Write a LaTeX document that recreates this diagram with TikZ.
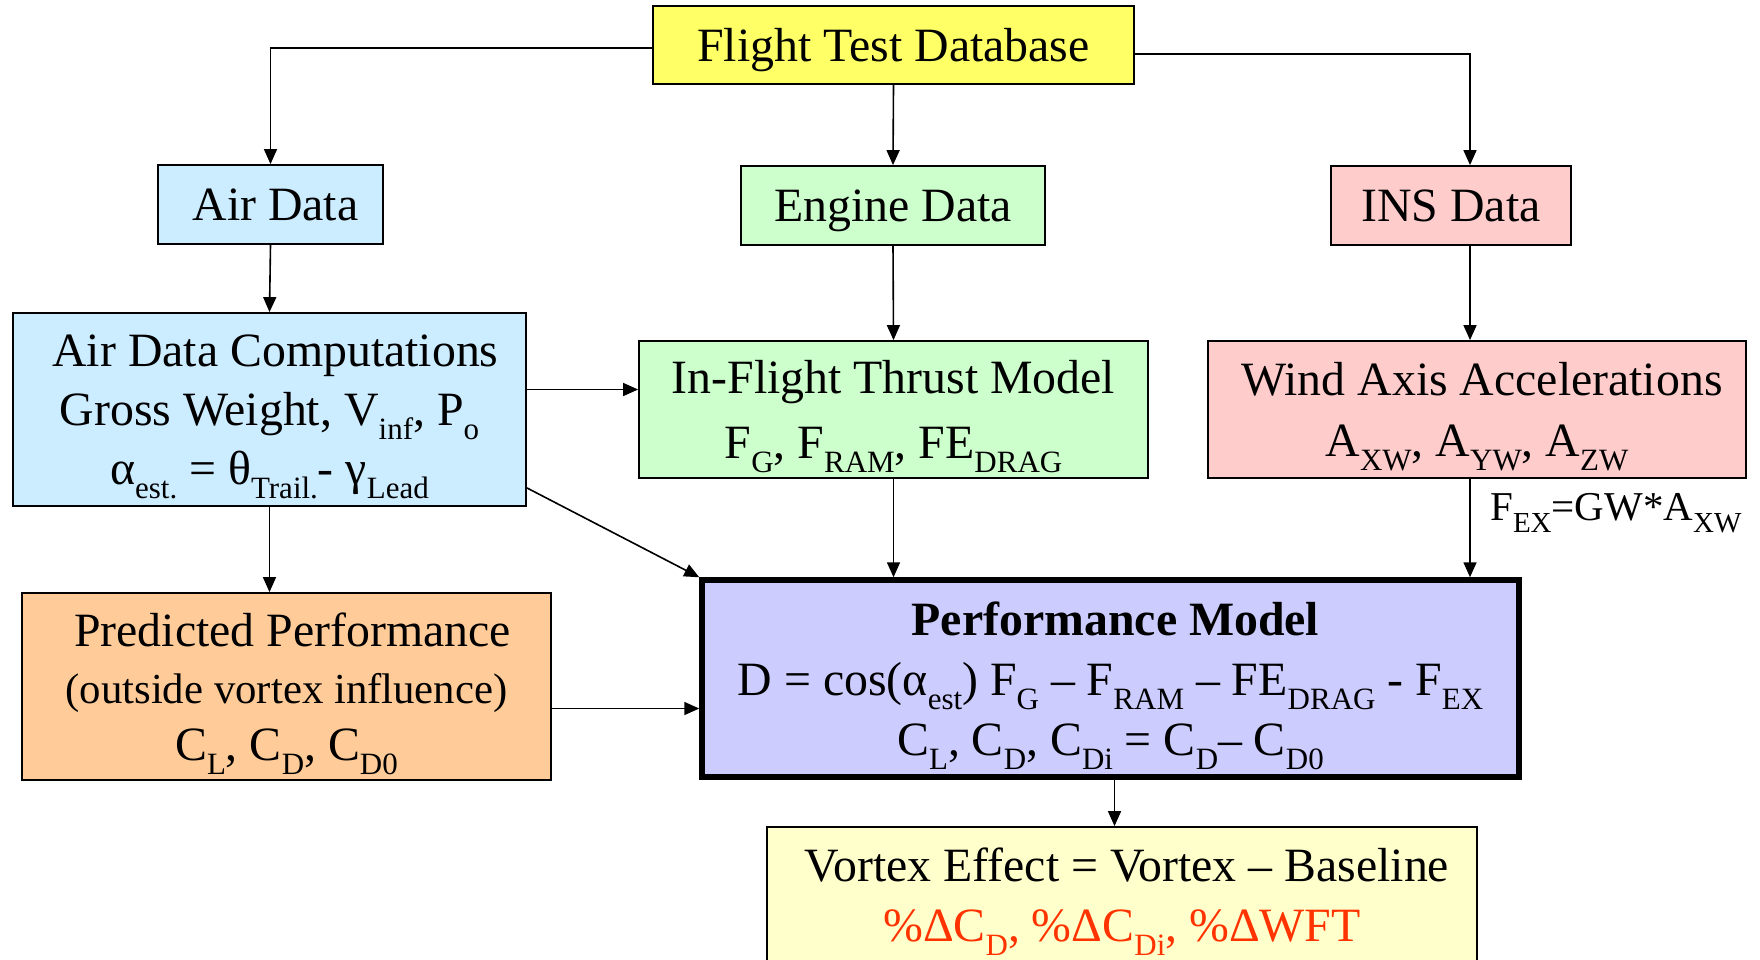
\documentclass[tikz,border=0pt]{standalone}
\usepackage{fontspec}
\setmainfont{Liberation Serif}
\usetikzlibrary{arrows.meta}

% lowered, smaller text for indices
\newcommand\sbt[1]{\raisebox{-0.3em}{\fontsize{31}{31}\selectfont #1}}
\newcommand\sbl[1]{\raisebox{-0.28em}{\fontsize{29}{29}\selectfont #1}}

\definecolor{dbyellow}{HTML}{FFFF66}
\definecolor{airblue}{HTML}{CCECFF}
\definecolor{enggreen}{HTML}{CCFFCC}
\definecolor{inspink}{HTML}{FFCCCC}
\definecolor{predorange}{HTML}{FFCC99}
\definecolor{perfblue}{HTML}{CCCCFF}
\definecolor{vortyellow}{HTML}{FFFFCC}
\definecolor{deltared}{HTML}{FF3300}

\begin{document}
\begin{tikzpicture}[x=1pt,y=-1pt,
  box/.style={draw, line width=1.8pt, inner sep=0pt, align=center, text depth=0pt,
    font=\fontsize{47.8}{57}\selectfont},
  arr/.style={line width=1.6pt, -{Triangle[length=15pt,width=13pt]}},
  note/.style={inner sep=0pt, anchor=west, font=\fontsize{41}{41}\selectfont}]

\fill[white] (0,0) rectangle (1760,959);
\useasboundingbox (0,0) rectangle (1760,959);

% top level
\node[box, fill=dbyellow, minimum width=481pt, minimum height=78pt] (db) at (893.5,45) {Flight Test Database};

% data sources
\node[box, fill=airblue, minimum width=225pt, minimum height=79pt] (air) at (270.5,204.5) {\hspace*{10pt}Air Data};
\node[box, fill=enggreen, minimum width=304pt, minimum height=79pt] (eng) at (893,205.5) {Engine Data};
\node[box, fill=inspink, minimum width=240pt, minimum height=79pt] (ins) at (1451,205.5) {INS Data};

% processing
\node[box, fill=airblue, minimum width=513pt, minimum height=193pt,
      font=\fontsize{47.8}{59}\selectfont] (adc) at (269.5,409.5)
  {\hspace*{12pt}Air Data Computations\\Gross Weight, V\sbt{inf}, P\sbt{o}\\
   α\sbt{est.} = θ\sbt{Trail.}- γ\sbt{Lead}};
\node[box, fill=enggreen, minimum width=509pt, minimum height=137pt,
      font=\fontsize{47.8}{65}\selectfont] (thr) at (893.5,409.5)
  {In-Flight Thrust Model\\F\sbt{G}, F\sbt{RAM}, FE\sbt{DRAG}};
\node[box, fill=inspink, minimum width=538pt, minimum height=137pt,
      font=\fontsize{47.8}{61}\selectfont] (wind) at (1477,409.5)
  {\hspace*{10pt}Wind Axis Accelerations\\A\sbt{XW}, A\sbt{YW}, A\sbt{ZW}};

% models
\node[box, fill=predorange, minimum width=529pt, minimum height=187pt] (pred) at (286.5,686.5)
  {\hspace*{12pt}Predicted Performance\\{\fontsize{42.8}{57}\selectfont (outside vortex influence)}\\
   C\sbt{L}, C\sbt{D}, C\sbt{D0}};
\node[box, fill=perfblue, line width=5.5pt, minimum width=817pt, minimum height=197pt,
      font=\fontsize{47.8}{60}\selectfont] (perf) at (1110.5,678.5)
  {\hspace*{10pt}\textbf{Performance Model}\\
   D = cos(α\sbt{est}) F\sbt{G} – F\sbt{RAM} – FE\sbt{DRAG} - F\sbt{EX}\\
   C\sbt{L}, C\sbt{D}, C\sbt{Di} = C\sbt{D}– C\sbt{D0}};

% result (runs off the lower edge)
\node[box, fill=vortyellow, minimum width=710pt, minimum height=135pt,
      font=\fontsize{47.8}{60}\selectfont] (vort) at (1122,894.5)
  {\hspace*{10pt}Vortex Effect = Vortex – Baseline\\
   \textcolor{deltared}{\%ΔC\sbt{D}, \%ΔC\sbt{Di}, \%ΔWFT}};

% connectors
\coordinate (dbL) at ([yshift=-3pt]db.west);
\draw[arr] (dbL) -| (air.north);
\coordinate (dbR) at ([yshift=-9pt]db.east);
\coordinate (insT) at ([xshift=19pt]ins.north);
\draw[arr] (dbR) -| (insT);
\draw[arr] (db.south) -- (eng.north);

\draw[arr] (air.south) -- (adc.north);
\draw[arr] (eng.south) -- (thr.north);
\coordinate (insB) at ([xshift=19pt]ins.south);
\draw[arr] (insB) -- (insB |- wind.north);

\coordinate (adcR) at ([yshift=20pt]adc.east);
\draw[arr] (adcR) -- (adcR -| thr.west);
\coordinate (adcD) at ([yshift=19pt]adc.south east);
\draw[arr] (adcD) -- (perf.north west);
\draw[arr] (adc.south) -- (adc.south |- pred.north);

\coordinate (predR) at ([yshift=-22pt]pred.east);
\draw[arr] (predR) -- (predR -| perf.west);
\draw[arr] (thr.south) -- (thr.south |- perf.north);
\coordinate (windB) at ([xshift=-7pt]wind.south);
\draw[arr] (windB) -- (windB |- perf.north);
\node[note] (fex) at (1490,513) {F\sbl{EX}=GW*A\sbl{XW}};

\coordinate (perfB) at ([xshift=4pt]perf.south);
\draw[arr] (perfB) -- (perfB |- vort.north);

\end{tikzpicture}
\end{document}
